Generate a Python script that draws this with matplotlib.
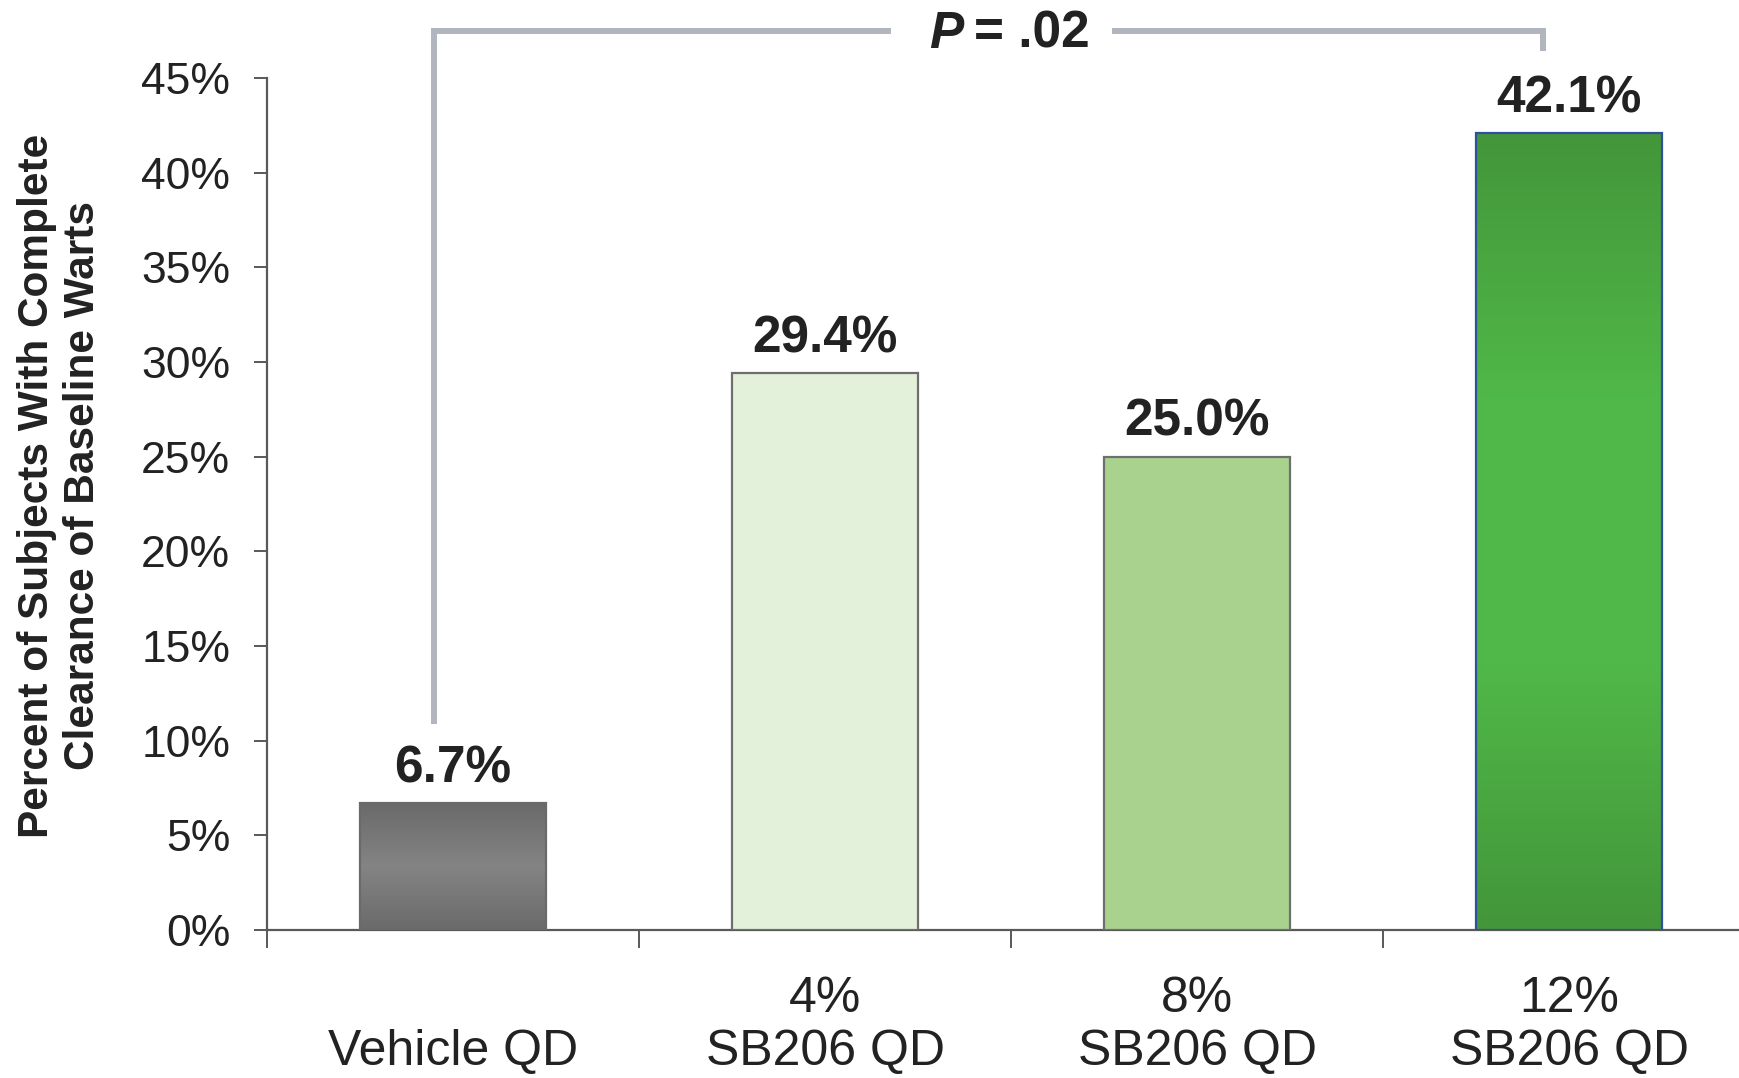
import numpy as np
import matplotlib
matplotlib.use("Agg")
import matplotlib.pyplot as plt
from matplotlib.colors import LinearSegmentedColormap

plt.rcParams['font.family'] = ['Liberation Sans', 'DejaVu Sans']

categories = ['\nVehicle QD', '4%\nSB206 QD', '8%\nSB206 QD', '12%\nSB206 QD']
values = [6.7, 29.4, 25.0, 42.1]
value_labels = ['6.7%', '29.4%', '25.0%', '42.1%']
yticks = [0, 5, 10, 15, 20, 25, 30, 35, 40, 45]
ytick_labels = ['0%', '5%', '10%', '15%', '20%', '25%', '30%', '35%', '40%', '45%']
p_letter = 'P'
p_text = '= .02'

W, H = 1739, 1078
fig = plt.figure(figsize=(W / 100, H / 100), dpi=100)
ax = fig.add_axes([267 / W, 1 - 930 / H, 1488 / W, (930 - 78) / H])

x = np.arange(len(values))
face = ['#737373', '#e4f1da', '#a9d28e', '#48a841']
edge = ['#6a6a6a', '#6f6f6f', '#6f6f6f', '#2f4f9f']
bars = ax.bar(x, values, width=0.5, color=face, edgecolor=edge, linewidth=1.6, zorder=3)

# vertical gradients (dark-light-dark) for gray and dark-green bars
grads = {
    0: ['#6a6a6a', '#848484', '#6a6a6a'],
    3: ['#43963a', '#50b848', '#50b848', '#43963a'],
}
for i, cols in grads.items():
    b = bars[i]
    cmap = LinearSegmentedColormap.from_list('g%d' % i, cols)
    grad = np.linspace(0, 1, 256).reshape(-1, 1)
    im = ax.imshow(grad, cmap=cmap, aspect='auto', origin='upper',
                   extent=[b.get_x(), b.get_x() + b.get_width(), 0, b.get_height()],
                   zorder=3.5)
    im.set_clip_path(b)
    b.set_facecolor('none')
    b.set_zorder(4)

ax.set_xlim(-0.5, 3.5)
ax.set_ylim(0, 45)

for xi, v, lab in zip(x, values, value_labels):
    ax.annotate(lab, (xi, v), xytext=(0, 15), textcoords='offset points',
                ha='center', va='baseline', fontsize=37, fontweight='bold', color='#222222')

# significance bracket
bc = '#b1b5be'
lw = 4.3
ax.plot([-0.052, -0.052, 1.17], [11.06, 47.5, 47.5], color=bc, lw=lw, clip_on=False,
        solid_joinstyle='miter', zorder=2)
ax.plot([1.78, 2.93, 2.93], [47.5, 47.5, 46.6], color=bc, lw=lw, clip_on=False,
        solid_joinstyle='miter', zorder=2)
ax.text(1.279, 47.3, p_letter, fontsize=37, fontweight='bold', fontstyle='italic',
        ha='left', va='center', color='#222222')
ax.text(1.401, 47.3, p_text, fontsize=37, fontweight='bold', ha='left', va='center',
        color='#222222')

# axes styling
for s in ['top', 'right']:
    ax.spines[s].set_visible(False)
for s in ['left', 'bottom']:
    ax.spines[s].set_color('#595959')
    ax.spines[s].set_linewidth(1.6)

ax.set_yticks(yticks)
ax.set_yticklabels(ytick_labels, fontsize=32, color='#222222')
ax.tick_params(axis='y', length=9.5, width=1.4, color='#595959', pad=17)

ax.set_xticks(x)
ax.set_xticklabels(categories, fontsize=36, color='#222222', linespacing=1.2)
ax.tick_params(axis='x', which='major', length=0, pad=33)
ax.set_xticks([-0.5, 0.5, 1.5, 2.5], minor=True)
ax.tick_params(axis='x', which='minor', length=13, width=1.4, color='#595959', direction='out')

fig.text(60 / W, 1 - 486 / H, 'Percent of Subjects With Complete\nClearance of Baseline Warts',
         rotation=90, ha='center', va='center', multialignment='center',
         fontsize=30.5, fontweight='bold', color='#222222', linespacing=1.2)

fig.savefig('out.png', dpi=100)
